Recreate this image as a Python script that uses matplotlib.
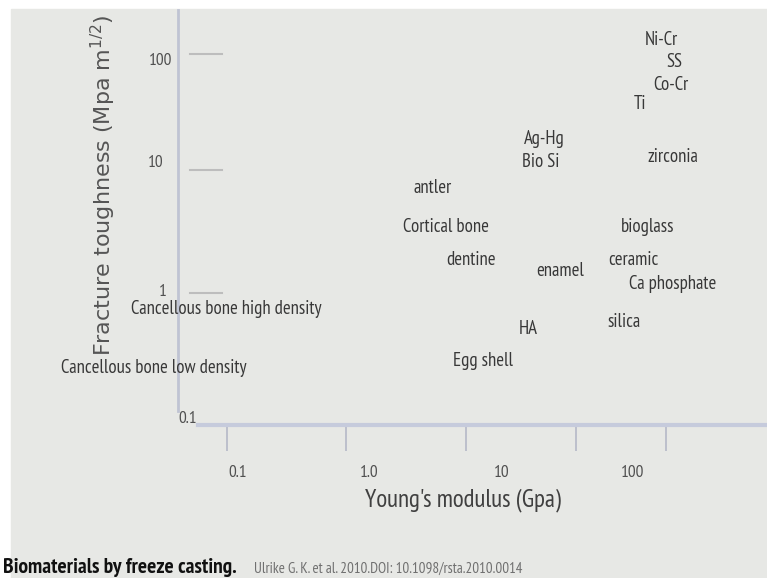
import matplotlib
matplotlib.use("Agg")
import matplotlib.pyplot as plt
from matplotlib.patches import Rectangle
from matplotlib.ticker import FixedLocator, NullFormatter, NullLocator
import matplotlib.transforms as mtransforms

# materials: name, Young's modulus (GPa), fracture toughness (MPa m^1/2)
names = ["Ni-Cr", "SS", "Co-Cr", "Ti", "Ag-Hg", "Bio Si", "zirconia",
         "antler", "Cortical bone", "bioglass", "dentine", "ceramic",
         "enamel", "Ca phosphate", "Cancellous bone high density",
         "HA", "silica", "Cancellous bone low density", "Egg shell"]
modulus = [165, 205, 195, 113, 21, 20, 200,
           3.0, 3.8, 128, 5.9, 100,
           28, 200, 0.082,
           16, 85, 0.023, 7.3]
toughness = [135, 90, 58, 41, 21, 13.7, 15,
             8.5, 4.1, 4.1, 2.2, 2.2,
             1.8, 1.4, 0.88,
             0.6, 0.69, 0.29, 0.33]

xtick_vals = [0.1, 1, 10, 100]
xtick_text = ["0.1", "1.0", "10", "100"]
xmark_vals = [0.082, 0.656, 5.4, 36.7, 179]   # tick strokes drawn on the slide
ymark_vals = [104, 11.8, 1.18]
ytick_text = ["100", "10", "1", "0.1"]
ytick_vals = [91, 13.5, 1.2, 0.112]

W, H = 767, 578
narrow = ["PT Sans Narrow", "DejaVu Sans"]

fig = plt.figure(figsize=(W / 100, H / 100), dpi=100)
fig.patch.set_facecolor("white")
fig.add_artist(Rectangle((11 / W, 0), 1 - 11 / W, 1 - 9 / H,
                         transform=fig.transFigure, color="#e7e8e5", zorder=0))

ax = fig.add_axes([178 / W, 1 - 425 / H, 589 / W, 415 / H])
ax.set_facecolor("none")
ax.set_xscale("log")
ax.set_yscale("log")
ax.set_xlim(0.035, 1040)
ax.set_ylim(0.1, 236)

for s in ["top", "right"]:
    ax.spines[s].set_visible(False)
ax.spines["left"].set_color("#bfc3d3")
ax.spines["left"].set_linewidth(2)
ax.spines["left"].set_bounds(0.13, 236)
ax.spines["bottom"].set_color("#c6cbdc")
ax.spines["bottom"].set_linewidth(3)
ax.spines["bottom"].set_bounds(0.05, 1040)

ax.xaxis.set_major_locator(FixedLocator(xtick_vals))
ax.set_xticklabels(xtick_text, family=narrow, fontsize=12.5, color="#505050")
ax.xaxis.set_minor_locator(FixedLocator(xmark_vals))
ax.xaxis.set_minor_formatter(NullFormatter())
ax.tick_params(axis="x", which="major", length=0, pad=29)
ax.tick_params(axis="x", which="minor", length=19, width=1.2, color="#b5b9c8")
ax.yaxis.set_major_locator(NullLocator())
ax.yaxis.set_minor_locator(NullLocator())

for v in ymark_vals:
    ax.axhline(v, xmin=0.020, xmax=0.075, color="#bdbdbd", lw=1.5)

trans = mtransforms.blended_transform_factory(ax.transAxes, ax.transData)
ypos_x = [-0.010, -0.025, -0.025, 0.017]
ypos_ha = ["right", "right", "center", "center"]
for t, v, xx, ha in zip(ytick_text, ytick_vals, ypos_x, ypos_ha):
    ax.text(xx, v, t, transform=trans, ha=ha, va="center",
            family=narrow, fontsize=12.5, color="#505050")

for n, e, k in zip(names, modulus, toughness):
    ax.text(e, k, n, ha="center", va="center", family=narrow,
            fontsize=13.5, color="#383838")

fig.text(103 / W, 1 - 185 / H, "Fracture toughness (Mpa m$^{1/2}$)",
         rotation=90, ha="center", va="center", fontsize=16, color="#555555")
fig.text(463 / W, 1 - 500 / H, "Young's modulus (Gpa)", ha="center",
         va="center", family=narrow, fontsize=18, color="#404040")

fig.text(3 / W, 5 / H, "Biomaterials by freeze casting.", ha="left",
         va="baseline", family=narrow, fontweight="bold", fontsize=15.5,
         color="#111111")
fig.text(254 / W, 5 / H, "Ulrike G. K. et al. 2010.DOI: 10.1098/rsta.2010.0014",
         ha="left", va="baseline", family=narrow, fontsize=10.8, color="#707070")

fig.savefig("out.png", dpi=100)
